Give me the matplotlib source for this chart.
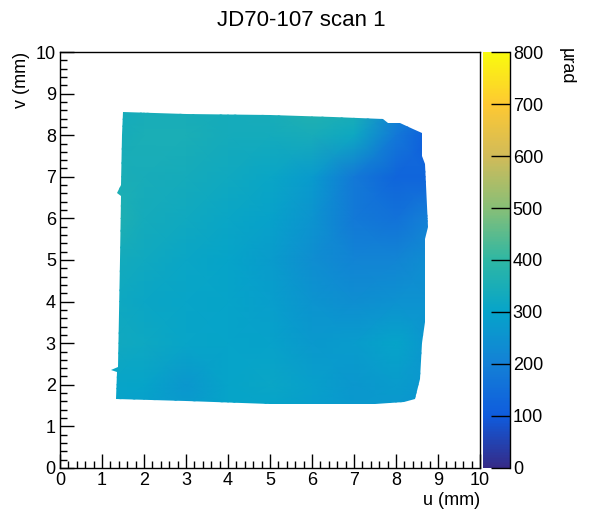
import numpy as np
import matplotlib as mpl
import matplotlib.pyplot as plt
from matplotlib.colors import LinearSegmentedColormap
from matplotlib.patches import Polygon
from matplotlib.ticker import MultipleLocator

mpl.rc('font', family='Liberation Sans', size=13)

# ROOT kBird palette
bird_stops = [0, 0.125, 0.25, 0.375, 0.5, 0.625, 0.75, 0.875, 1]
bird_red = [0.2082, 0.0592, 0.0780, 0.0232, 0.1802, 0.5301, 0.8186, 0.9956, 0.9764]
bird_green = [0.1664, 0.3599, 0.5041, 0.6419, 0.7178, 0.7492, 0.7328, 0.7862, 0.9832]
bird_blue = [0.5293, 0.8684, 0.8385, 0.7914, 0.6425, 0.4662, 0.3499, 0.1968, 0.0539]

# sampling nodes (mm) and estimated angle values (urad), rows from bottom to top
u_nodes = [1.2, 2, 3, 4, 5, 6, 7, 8, 8.8]
v_nodes = [1.5, 2, 3, 4, 5, 6, 7, 8, 8.6]
angle = [
    [300, 290, 275, 300, 300, 285, 270, 270, 260],
    [305, 300, 265, 300, 310, 290, 265, 280, 260],
    [330, 320, 305, 300, 295, 270, 280, 300, 260],
    [325, 315, 305, 300, 285, 255, 240, 250, 250],
    [340, 325, 310, 300, 280, 240, 210, 215, 240],
    [370, 340, 325, 310, 295, 255, 180, 160, 200],
    [355, 345, 340, 325, 310, 275, 180, 125, 125],
    [340, 350, 350, 340, 335, 345, 320, 175, 105],
    [335, 345, 345, 340, 345, 370, 355, 220, 150],
]

# outline of the scanned sample (mm)
outline_u = [1.33, 1.36, 1.22, 1.37, 1.42, 1.45, 1.36, 1.46, 1.48, 1.5, 3.0, 5.0, 6.5,
             7.7, 7.8, 8.1, 8.4, 8.62, 8.62, 8.7, 8.76, 8.68, 8.7, 8.62, 8.57, 8.45,
             8.2, 7.5, 5.0, 3.0, 1.33]
outline_v = [1.66, 2.3, 2.35, 2.42, 5.0, 6.55, 6.62, 6.8, 8.0, 8.56, 8.52, 8.48, 8.44,
             8.38, 8.3, 8.3, 8.16, 8.05, 7.5, 7.3, 5.8, 5.5, 3.5, 3.0, 2.15, 1.65,
             1.58, 1.55, 1.55, 1.6, 1.66]

cdict = {
    'red': [(s, c, c) for s, c in zip(bird_stops, bird_red)],
    'green': [(s, c, c) for s, c in zip(bird_stops, bird_green)],
    'blue': [(s, c, c) for s, c in zip(bird_stops, bird_blue)],
}
bird = LinearSegmentedColormap('bird', cdict, N=256)

fig = plt.figure(figsize=(6.01, 5.22), dpi=100)
W, H = 601, 522
ax = fig.add_axes([60 / W, (H - 468) / H, 420 / W, 416 / H])
cax = fig.add_axes([483 / W, (H - 468) / H, 27 / W, 416 / H])

U, V = np.meshgrid(u_nodes, v_nodes)
mesh = ax.pcolormesh(U, V, np.array(angle, dtype=float), cmap=bird, vmin=0, vmax=800,
                     shading='gouraud')
sample = Polygon(np.column_stack([outline_u, outline_v]), closed=True,
                 transform=ax.transData, facecolor='none', edgecolor='none')
ax.add_patch(sample)
mesh.set_clip_path(sample)

ax.set_xlim(0, 10)
ax.set_ylim(0, 10)
ax.xaxis.set_major_locator(MultipleLocator(1))
ax.xaxis.set_minor_locator(MultipleLocator(0.2))
ax.yaxis.set_major_locator(MultipleLocator(1))
ax.yaxis.set_minor_locator(MultipleLocator(0.2))
ax.tick_params(which='major', direction='in', length=10, width=1, top=False, right=False, pad=3)
ax.tick_params(which='minor', direction='in', length=5, width=1, top=False, right=False)
for sp in ax.spines.values():
    sp.set_linewidth(1)

ax.set_xlabel('u (mm)', loc='right', labelpad=2)
ax.set_ylabel('v (mm)', loc='top', labelpad=4)
fig.text(301 / W, 1 - 20 / H, 'JD70-107 scan 1', ha='center', va='center', fontsize=16)

cb = fig.colorbar(mesh, cax=cax)
cb.outline.set_visible(False)
cax.plot([1, 1], [0, 1], transform=cax.transAxes, color='black', lw=1, clip_on=False)
cb.set_ticks(np.arange(0, 801, 100))
cax.tick_params(direction='in', length=14, width=1, pad=2)
fig.text(566 / W, 1 - 66 / H, 'µrad', rotation=-90, ha='center', va='center')

fig.savefig('out.png', dpi=100)
